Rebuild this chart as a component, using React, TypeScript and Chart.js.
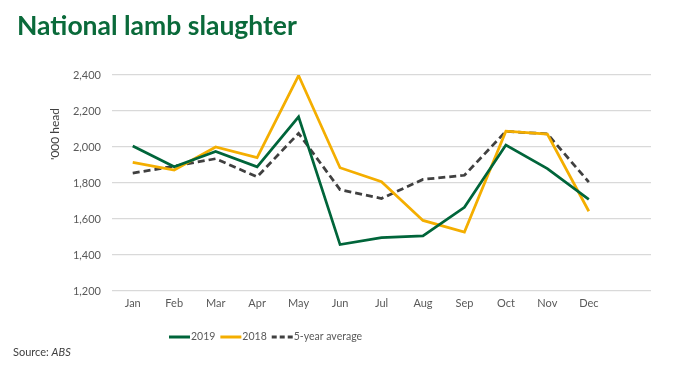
import React, { useEffect, useRef } from "react";
import { Chart, registerables } from "chart.js";

Chart.register(...registerables);

const months = ["Jan", "Feb", "Mar", "Apr", "May", "Jun", "Jul", "Aug", "Sep", "Oct", "Nov", "Dec", ""];
const y2019 = [2005, 1890, 1975, 1890, 2168, 1458, 1496, 1506, 1665, 2011, 1880, 1709];
const y2018 = [1915, 1872, 2000, 1941, 2397, 1885, 1807, 1592, 1527, 2088, 2072, 1643];
const avg5 = [1855, 1893, 1935, 1834, 2076, 1763, 1714, 1820, 1843, 2087, 2073, 1805];
const yTicks = [1200, 1400, 1600, 1800, 2000, 2200, 2400];

const GREEN = "#00653A";
const YELLOW = "#F4AE00";
const DASH = "#404040";
const FONT = "Lato, 'Open Sans', sans-serif";

const overlay = {
  id: "overlay",
  afterDraw(chart: any) {
    const ctx = chart.ctx as CanvasRenderingContext2D;
    ctx.save();
    // title
    ctx.fillStyle = "#0A6A3A";
    ctx.font = `bold 26.5px ${FONT}`;
    ctx.textBaseline = "alphabetic";
    ctx.textAlign = "left";
    ctx.fillText("National lamb slaughter", 17, 35);
    // y title
    ctx.save();
    ctx.translate(55, 134);
    ctx.rotate(-Math.PI / 2);
    ctx.font = `12px ${FONT}`;
    ctx.fillStyle = "#404040";
    ctx.textAlign = "center";
    ctx.textBaseline = "middle";
    ctx.fillText("'000 head", 0, 0);
    ctx.restore();
    // legend
    ctx.font = `10.5px ${FONT}`;
    ctx.textBaseline = "middle";
    let x = 169;
    const ly = 337;
    chart.data.datasets.forEach((ds: any) => {
      ctx.beginPath();
      ctx.strokeStyle = ds.borderColor;
      ctx.lineWidth = 3;
      ctx.setLineDash(ds.borderDash ? [5, 3] : []);
      ctx.moveTo(x, ly);
      ctx.lineTo(x + 21, ly);
      ctx.stroke();
      ctx.setLineDash([]);
      ctx.fillStyle = "#595959";
      ctx.fillText(ds.label, x + 22, ly);
      x += 22 + ctx.measureText(ds.label).width + 5;
    });
    // source
    ctx.fillStyle = "#404040";
    ctx.font = `11px ${FONT}`;
    ctx.fillText("Source: ", 13, 352);
    const w = ctx.measureText("Source: ").width;
    ctx.font = `italic 11px ${FONT}`;
    ctx.fillText("ABS", 13 + w, 352);
    ctx.restore();
  },
};

export default function App() {
  const ref = useRef<HTMLCanvasElement>(null);
  useEffect(() => {
    if (!ref.current) return;
    const chart = new Chart(ref.current, {
      type: "line",
      data: {
        labels: months,
        datasets: [
          { label: "2019", data: y2019, borderColor: GREEN, backgroundColor: GREEN, borderWidth: 2.75, pointRadius: 0, tension: 0 },
          { label: "2018", data: y2018, borderColor: YELLOW, backgroundColor: YELLOW, borderWidth: 2.75, pointRadius: 0, tension: 0 },
          { label: "5-year average", data: avg5, borderColor: DASH, backgroundColor: DASH, borderWidth: 2.75, borderDash: [7, 4], pointRadius: 0, tension: 0 },
        ],
      },
      options: {
        responsive: false,
        animation: false,
        layout: { padding: { top: 75, right: 49, bottom: 0, left: 0 } },
        plugins: { legend: { display: false }, tooltip: { enabled: false }, title: { display: false } },
        scales: {
          x: {
            offset: true,
            grid: { display: false, drawTicks: false },
            border: { display: false },
            ticks: { color: "#595959", font: { family: FONT, size: 11 }, padding: 6, maxRotation: 0, autoSkip: false },
            afterFit: (s: any) => { s.height = 78; },
          },
          y: {
            min: 1200,
            max: 2400,
            afterBuildTicks: (s: any) => { s.ticks = yTicks.map((v) => ({ value: v })); },
            grid: { color: "#D9D9D9", lineWidth: 1.2, drawTicks: false },
            border: { display: false },
            ticks: {
              color: "#595959",
              font: { family: FONT, size: 11 },
              padding: 11,
              callback: (v: any) => Number(v).toLocaleString("en-US"),
            },
            afterFit: (s: any) => { s.width = 112; },
          },
        },
      },
      plugins: [overlay],
    });
    return () => chart.destroy();
  }, []);
  return (
    <div style={{ position: "absolute", left: 0, top: 0, width: 700, height: 369, background: "#fff" }}>
      <canvas ref={ref} width={700} height={369} />
    </div>
  );
}
